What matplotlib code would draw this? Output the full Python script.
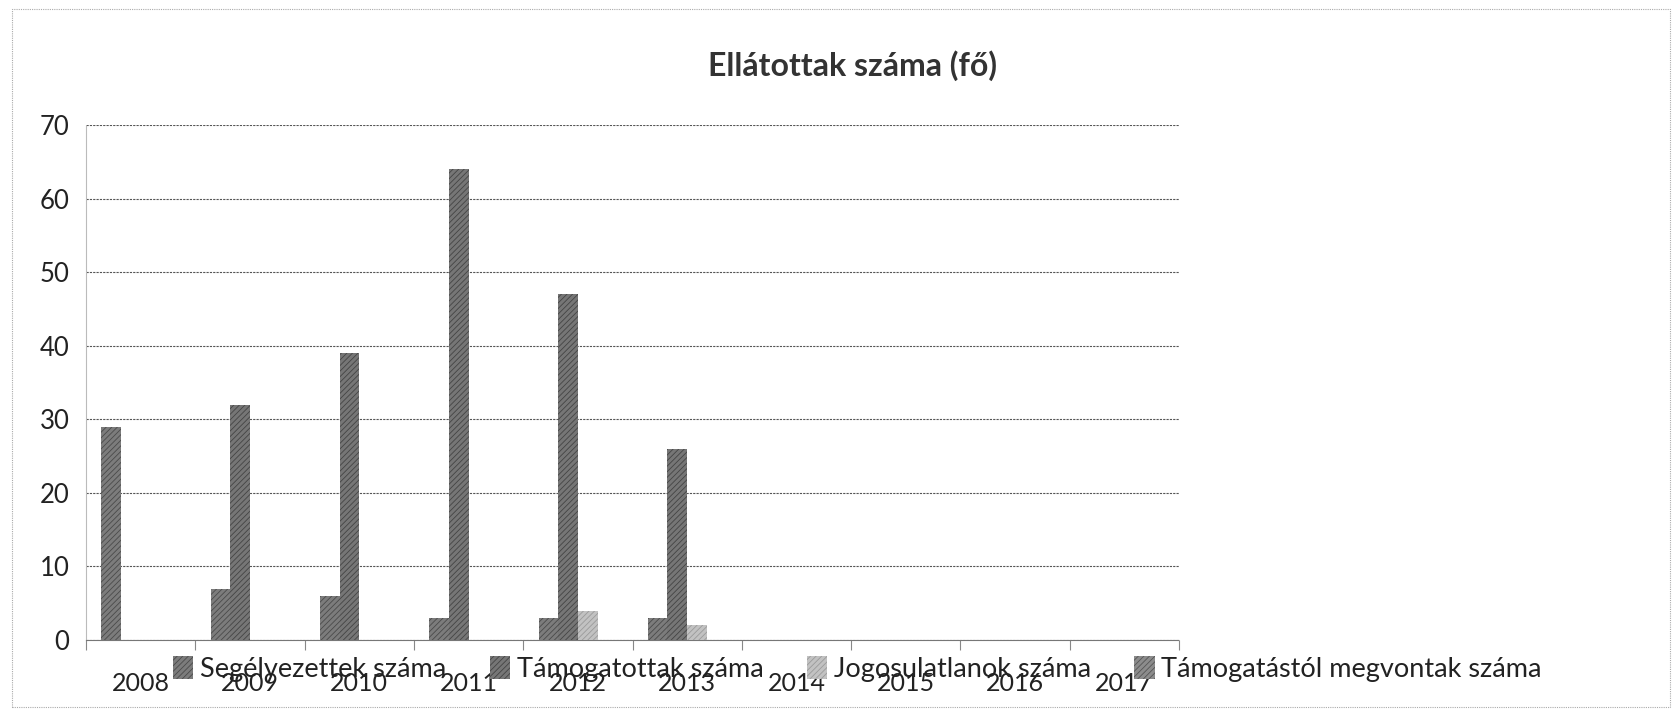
import numpy as np
import matplotlib
matplotlib.use('Agg')
import matplotlib.pyplot as plt
from matplotlib.patches import Rectangle

# data
years = ['2008', '2009', '2010', '2011', '2012', '2013', '2014', '2015', '2016', '2017']
segelyezettek = [29, 7, 6, 3, 3, 3, 0, 0, 0, 0]
tamogatottak = [0, 32, 39, 64, 47, 26, 0, 0, 0, 0]
jogosulatlanok = [0, 0, 0, 0, 4, 2, 0, 0, 0, 0]
megvontak = [0, 0, 0, 0, 0, 0, 0, 0, 0, 0]
series_names = ['Segélyezettek száma', 'Támogatottak száma',
                'Jogosulatlanok száma', 'Támogatástól megvontak száma']
series_colors = ['#7c7c7c', '#767676', '#c2c2c2', '#8c8c8c']
hatch_colors = ['#4a4a4a', '#444444', '#9a9a9a', '#555555']
yticks = [0, 10, 20, 30, 40, 50, 60, 70]

plt.rcParams['font.family'] = ['Lato', 'DejaVu Sans']
plt.rcParams['hatch.linewidth'] = 0.6

fig = plt.figure(figsize=(16.78, 7.18), dpi=100)
ax = fig.add_axes([0.0513, 0.1086, 0.6513, 0.7173])

x = np.arange(len(years))
w = 0.18
offsets = [-1.5 * w, -0.5 * w, 0.5 * w, 1.5 * w]
all_series = [segelyezettek, tamogatottak, jogosulatlanok, megvontak]
for vals, name, col, hc, off in zip(all_series, series_names, series_colors, hatch_colors, offsets):
    ax.bar(x + off, vals, width=w, color=col, edgecolor=hc, hatch='//////',
           linewidth=0, label=name, zorder=3)

ax.set_xlim(-0.5, len(years) - 0.5)
ax.set_ylim(0, 70)
ax.set_yticks(yticks)
ax.yaxis.grid(True, color='#555555', linestyle=(0, (2, 1)), linewidth=0.8, zorder=0)

# category labels at group centres, tick marks at group borders
ax.set_xticks(x)
ax.set_xticklabels(years)
ax.set_xticks(np.arange(-0.5, len(years)), minor=True)
ax.tick_params(axis='x', which='major', length=0, pad=23, labelsize=18, labelcolor='#222222')
ax.tick_params(axis='x', which='minor', length=7, color='#888888', width=0.8)
ax.tick_params(axis='y', length=0, pad=12, labelsize=18.5, labelcolor='#222222')

for s in ['top', 'right']:
    ax.spines[s].set_visible(False)
ax.spines['left'].set_color('#bbbbbb')
ax.spines['left'].set_linestyle((0, (1, 1)))
ax.spines['bottom'].set_color('#777777')
ax.spines['bottom'].set_linestyle((0, (2, 1)))

fig.text(0.508, 0.908, 'Ellátottak száma (fő)', ha='center', va='center',
         fontsize=23, fontweight='bold', color='#333333')

fig.legend(loc='center', bbox_to_anchor=(0.511, 0.068), ncol=4, frameon=False,
           fontsize=19.5, handlelength=0.75, handleheight=0.9, handletextpad=0.25,
           columnspacing=1.6, labelcolor='#222222')

# thin dotted outline around the chart area
fig.patches.append(Rectangle((0.007, 0.015), 0.988, 0.972, transform=fig.transFigure,
                             fill=False, edgecolor='#aaaaaa', linewidth=0.8,
                             linestyle=(0, (1, 1))))

fig.savefig('out.png', dpi=100)
